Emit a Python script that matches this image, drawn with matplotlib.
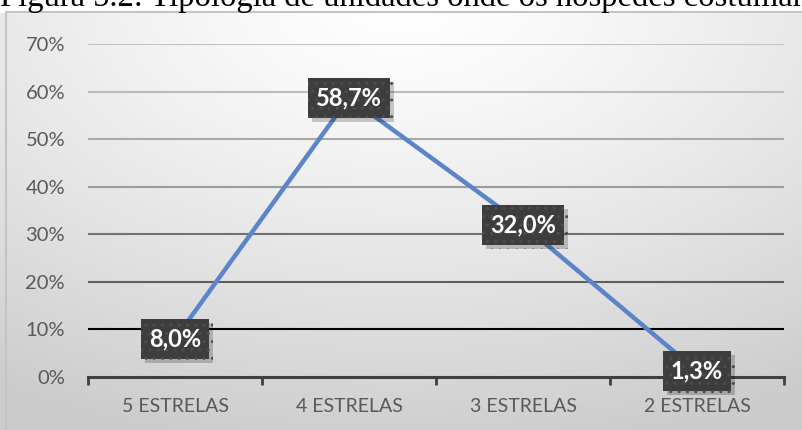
import numpy as np
import matplotlib.pyplot as plt
import matplotlib.patheffects as pe
from matplotlib.patches import Rectangle

plt.rcParams['font.family'] = ['Lato', 'DejaVu Sans']

# dados
categorias = ["5 ESTRELAS", "4 ESTRELAS", "3 ESTRELAS", "2 ESTRELAS"]
valores = [0.080, 0.587, 0.320, 0.013]
rotulos = ["8,0%", "58,7%", "32,0%", "1,3%"]
ticks_y = [0, 0.1, 0.2, 0.3, 0.4, 0.5, 0.6, 0.7]
ticks_y_txt = ["0%", "10%", "20%", "30%", "40%", "50%", "60%", "70%"]
titulo = "Figura 5.2: Tipologia de unidades onde os hóspedes costumam"

W, H = 802, 430
fig = plt.figure(figsize=(W / 100, H / 100), dpi=100)

# fundo com gradiente (branco no topo ao centro, cinza nas bordas)
bg = fig.add_axes([0, 0, 1, 1], zorder=0)
yy, xx = np.mgrid[0:1:200j, 0:1:400j]
dist = np.sqrt(((xx - 0.5) * 1.0) ** 2 + ((1 - yy) * 0.9) ** 2)
val = 1.0 - 0.2 * np.clip(dist / 0.95, 0, 1) ** 1.3
img = np.dstack([val, val, val])
bg.imshow(img, extent=[0, 1, 0, 1], origin="lower", aspect="auto")
bg.add_patch(Rectangle((0, 1 - 12 / H), 1, 12 / H, color="white", zorder=2))
bg.add_patch(Rectangle((6 / W, -0.01), 1.1, 1 - 12 / H + 0.01, fill=False,
                       edgecolor="#c4c4c4", linewidth=1.5, zorder=3))
bg.set_xlim(0, 1)
bg.set_ylim(0, 1)
bg.axis("off")

# título cortado no topo
fig.text(0.0, 1 - 6 / H, titulo, fontsize=23.5, family="Liberation Serif",
         ha="left", va="baseline", color="black", zorder=1)

ax = fig.add_axes([88 / W, 1 - 377 / H, (784 - 88) / W, (377 - 44) / H], zorder=2)
ax.patch.set_alpha(0)
x = np.arange(len(categorias))
ax.set_xlim(-0.5, len(categorias) - 0.5)
ax.set_ylim(0, 0.7)

cores_grade = ["#000000", "#5e5e5e", "#727272", "#9c9c9c", "#a9a9a9", "#bbbbbb", "#c2c2c2"]
for t, c in zip(ticks_y[1:], cores_grade):
    ax.axhline(t, color=c, linewidth=1.5, zorder=1)

ax.plot(x, valores, color="#5b84c9", linewidth=3.2, solid_capstyle="round", zorder=3)

for xi, v, r in zip(x, valores, rotulos):
    t = ax.text(xi, v, r, ha="center", va="center", fontsize=17, fontweight="bold",
                color="white", zorder=5,
                bbox=dict(boxstyle="square,pad=0.35", facecolor="#3d3d3d",
                          edgecolor="#4d4d4d", linewidth=0, hatch=".."))
    # sombra da caixa
    t.get_bbox_patch().set_path_effects([
        pe.SimplePatchShadow(offset=(3, -3), shadow_rgbFace="black", alpha=0.2),
        pe.Normal()])

ax.set_yticks(ticks_y)
ax.set_yticklabels(ticks_y_txt)
ax.set_xticks(x)
ax.set_xticklabels(categorias)
ax.set_xticks(np.arange(-0.5, len(categorias), 1), minor=True)
ax.tick_params(axis="y", length=0, pad=16.5, labelsize=14.5, labelcolor="#595959")
ax.tick_params(axis="x", which="major", length=0, pad=15, labelsize=14, labelcolor="#595959")
ax.tick_params(axis="x", which="minor", length=6, width=2, color="#404040", direction="out")

for s in ["top", "right", "left"]:
    ax.spines[s].set_visible(False)
ax.spines["bottom"].set_color("#404040")
ax.spines["bottom"].set_linewidth(2.2)
ax.spines["bottom"].set_zorder(2)

fig.savefig("out.png", dpi=100)
